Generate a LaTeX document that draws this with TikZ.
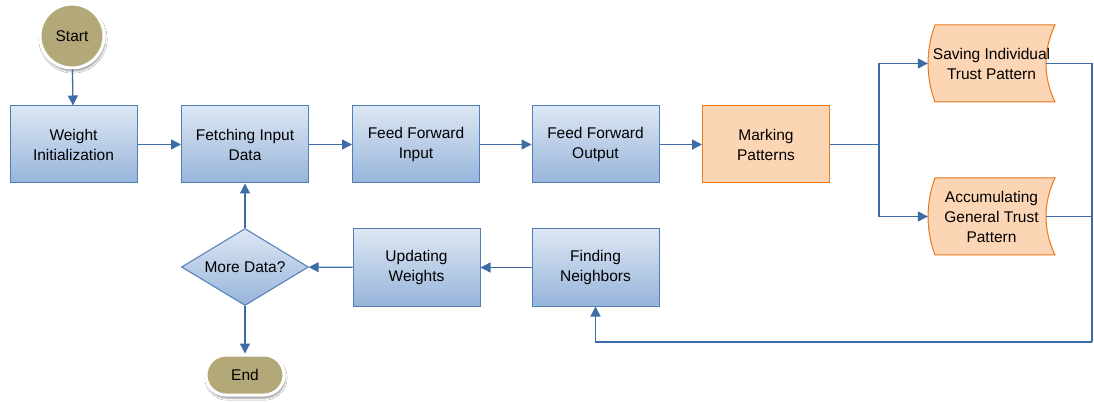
\documentclass[tikz,border=0pt]{standalone}
\usepackage{fontspec}
\setmainfont{Liberation Sans}
\usetikzlibrary{arrows.meta,shapes.geometric,shapes.misc,shadows.blur}
\definecolor{flowline}{HTML}{3E6CA6}
\definecolor{boxedge}{HTML}{4F7DB8}
\definecolor{boxtop}{HTML}{DDE7F3}
\definecolor{boxbot}{HTML}{97B4DA}
\definecolor{orfill}{HTML}{FCD5B4}
\definecolor{oredge}{HTML}{E8791E}
\definecolor{terminal}{HTML}{B3A877}
\tikzset{
  txt/.style={font=\fontsize{15.5}{20}\selectfont, align=center, text=black},
  bluebox/.style={txt, rectangle, draw=boxedge, line width=1pt, top color=boxtop, bottom color=boxbot,
    minimum width=127pt, minimum height=77pt, inner sep=0pt},
  orangebox/.style={txt, rectangle, draw=oredge, line width=1pt, fill=orfill,
    minimum width=127pt, minimum height=77pt, inner sep=0pt},
  decision/.style={txt, diamond, draw=boxedge, line width=1pt, top color=boxtop, bottom color=boxbot,
    minimum width=127pt, minimum height=77pt, inner sep=0pt, aspect=1.65},
  termshadow/.style={blur shadow={shadow xshift=1pt, shadow yshift=-3pt, shadow blur steps=6, shadow opacity=45}},
  startnode/.style={txt, circle, fill=terminal, draw=white, line width=3pt, minimum size=64pt, inner sep=0pt, termshadow},
  endnode/.style={txt, rounded rectangle, fill=terminal, draw=white, line width=3pt,
    minimum width=78pt, minimum height=40pt, inner sep=0pt, termshadow},
  storebox/.style={txt, rectangle, minimum width=127pt, minimum height=77pt, inner sep=0pt},
  storeedge/.style={draw=oredge, line width=1pt, fill=orfill},
  flow/.style={draw=flowline, line width=1.3pt},
  arr/.style={flow, -{Triangle[length=10pt,width=10pt]}}
}
\begin{document}
\begin{tikzpicture}[x=1pt,y=-1pt]
\path[use as bounding box, fill=white] (0,0) rectangle (1094,403);

% stored-data outlines for the two pattern stores
\path[storeedge] (935,25) -- (1055,25) .. controls (1043,50) and (1043,77) .. (1055,102)
  -- (935,102) .. controls (925.7,77) and (925.7,50) .. (935,25) -- cycle;
\path[storeedge] (935,178) -- (1055,178) .. controls (1043,203) and (1043,230) .. (1055,255)
  -- (935,255) .. controls (925.7,230) and (925.7,203) .. (935,178) -- cycle;

% nodes
\node[startnode] (start) at (72,36) {Start};
\node[bluebox] (wi)   at (73.5,144.5) {Weight\\Initialization};
\node[bluebox] (fet)  at (245,144.5)  {Fetching Input\\Data};
\node[bluebox] (ffi)  at (416,144.5)  {Feed Forward\\Input};
\node[bluebox] (ffo)  at (595.5,144.5){Feed Forward\\Output};
\node[orangebox] (mark) at (766,144.5) {Marking\\Patterns};
\node[storebox] (save) at (991.5,63.5) {Saving Individual\\Trust Pattern};
\node[storebox] (acc)  at (991.5,216.5) {Accumulating\\General Trust\\Pattern};
\node[bluebox] (fnd)  at (595.5,267.5) {Finding\\Neighbors};
\node[bluebox] (upd)  at (416.5,267.5) {Updating\\Weights};
\node[decision] (more) at (245,267) {More Data?};
\node[endnode] (end)  at (245,375) {End};

% branch and return points
\coordinate (br) at (879,144.5);
\coordinate (saveout) at ([xshift=-9pt]save.east);
\coordinate (accout) at ([xshift=-9pt]acc.east);
\coordinate (rtop) at (1092,63.5);
\coordinate (rbot) at (1092,342);

% connectors
\draw[arr] (start) -- (wi);
\draw[arr] (wi) -- (fet);
\draw[arr] (fet) -- (ffi);
\draw[arr] (ffi) -- (ffo);
\draw[arr] (ffo) -- (mark);
\draw[flow] (mark.east) -- (br);
\draw[arr] (br) |- (save.west);
\draw[arr] (br) |- (acc.west);
\draw[flow] (saveout) -- (rtop) -- (rbot);
\draw[flow] (accout) -- (acc.east -| rtop);
\draw[arr] (rbot) -| (fnd.south);
\draw[arr] (fnd) -- (upd);
\draw[arr] (upd) -- (more);
\draw[arr] (more) -- (fet);
\draw[arr] (more) -- (end);
\end{tikzpicture}
\end{document}
